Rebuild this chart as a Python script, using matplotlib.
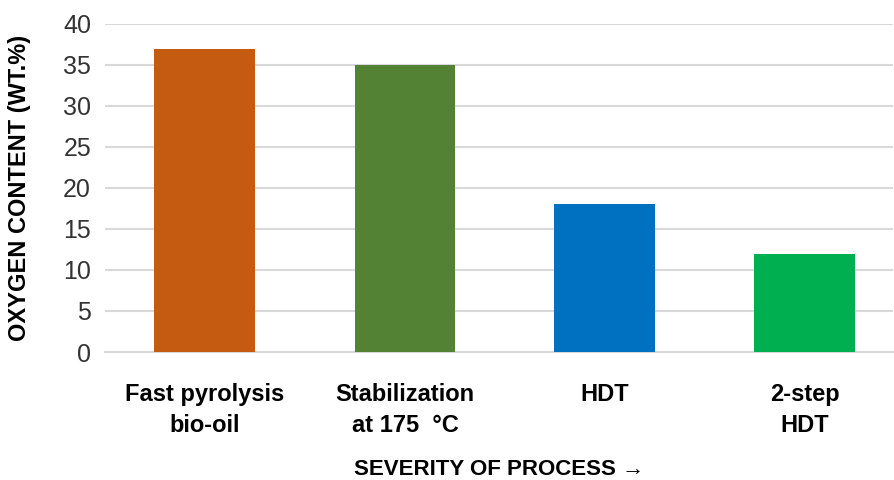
import matplotlib.pyplot as plt

categories = ['Fast pyrolysis\nbio-oil', 'Stabilization\nat 175  °C', 'HDT', '2-step\nHDT']
oxygen = [37, 35, 18, 12]
colors = ['#c55a11', '#548235', '#0070c0', '#00b050']

plt.rcParams['font.family'] = ['Liberation Sans', 'DejaVu Sans']

fig = plt.figure(figsize=(8.95, 4.8), dpi=100)
ax = fig.add_axes([105 / 895, 1 - 352 / 480, (893 - 105) / 895, (352 - 24) / 480])

x = range(len(categories))
ax.bar(x, oxygen, width=0.505, color=colors, zorder=3)
ax.set_xlim(-0.5, 3.44)
ax.set_ylim(0, 40)
ax.set_yticks(range(0, 41, 5))
ax.yaxis.grid(True, color='#d9d9d9', linewidth=1.5, zorder=0)
for s in ['top', 'right', 'left']:
    ax.spines[s].set_visible(False)
ax.spines['bottom'].set_color('#d9d9d9')
ax.spines['bottom'].set_linewidth(1.5)
ax.tick_params(length=0)
ax.tick_params(axis='y', labelsize=18, colors='#333333', pad=10)
ax.set_xticks(list(x))
ax.set_xticklabels(categories, fontsize=17, fontweight='bold', linespacing=1.45)
ax.tick_params(axis='x', pad=22)
ax.set_ylabel('OXYGEN CONTENT (WT.%)', fontsize=17, fontweight='bold')
ax.yaxis.set_label_coords(-0.094, 0.5)
ax.set_xlabel('SEVERITY OF PROCESS →', fontsize=16, fontweight='bold', labelpad=16)

fig.savefig('out.png')
